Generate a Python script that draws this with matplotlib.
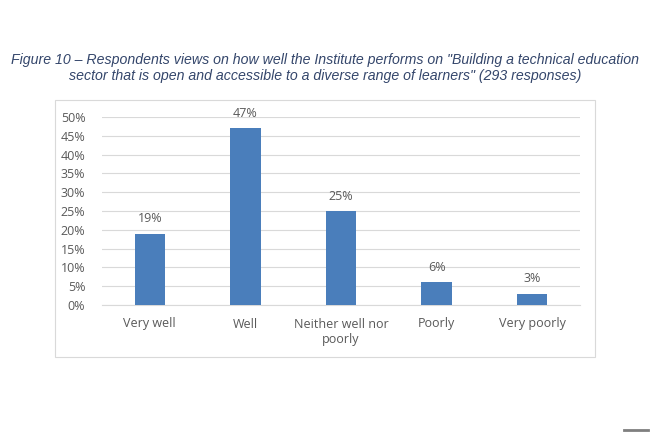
import matplotlib.pyplot as plt
from matplotlib.patches import Rectangle
from matplotlib.lines import Line2D

# Data
categories = ['Very well', 'Well', 'Neither well nor\npoorly', 'Poorly', 'Very poorly']
values = [19, 47, 25, 6, 3]
yticks = [0, 5, 10, 15, 20, 25, 30, 35, 40, 45, 50]

bar_color = '#4A7EBB'
text_grey = '#595959'

fig = plt.figure(figsize=(6.5, 4.33), dpi=100)
fig.patch.set_facecolor('white')

# Chart border
fig.patches.append(Rectangle((55 / 650, 1 - 357 / 433), 540 / 650, 257 / 433,
                             transform=fig.transFigure, fill=False,
                             edgecolor='#D9D9D9', linewidth=0.8))

# Title
fig.text(0.5, 1 - 68 / 433,
         'Figure 10 \u2013 Respondents views on how well the Institute performs on "Building a technical education\n'
         'sector that is open and accessible to a diverse range of learners" (293 responses)',
         ha='center', va='center', fontsize=10.2, style='italic',
         family='Liberation Sans', color='#34466B', linespacing=1.1)

ax = fig.add_axes([102 / 650, 1 - 305 / 433, 478 / 650, 188 / 433])
x = range(len(categories))
bars = ax.bar(x, values, width=0.32, color=bar_color, zorder=3)

for xi, v in zip(x, values):
    ax.text(xi, v + 2.2, f'{v}%', ha='center', va='bottom',
            fontsize=9, color=text_grey, family='Open Sans')

ax.set_ylim(0, 50)
ax.set_xlim(-0.5, 4.5)
ax.set_yticks(yticks)
ax.set_yticklabels([f'{t}%' for t in yticks], family='Open Sans', fontsize=9, color=text_grey)
ax.set_xticks(list(x))
ax.set_xticklabels(categories, family='Open Sans', fontsize=9, color=text_grey, linespacing=1.3)
ax.tick_params(axis='both', length=0)
ax.tick_params(axis='x', pad=9)
ax.tick_params(axis='y', pad=12)
ax.grid(axis='y', color='#D9D9D9', linewidth=0.8, zorder=0)
for s in ['top', 'right', 'left']:
    ax.spines[s].set_visible(False)
ax.spines['bottom'].set_color('#D9D9D9')

# small grey mark bottom right
fig.lines.append(Line2D([624 / 650, 648 / 650], [1 - 430 / 433, 1 - 430 / 433],
                        transform=fig.transFigure, color='#7F7F7F', linewidth=2))

fig.savefig('out.png', dpi=100)
